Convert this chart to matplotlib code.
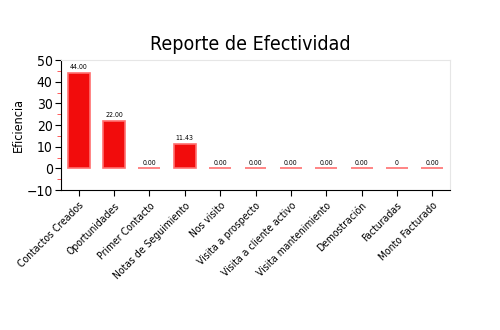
import matplotlib
matplotlib.use('Agg')
import matplotlib.pyplot as plt
from matplotlib.ticker import MultipleLocator

# Data
categories = ['Contactos Creados', 'Oportunidades', 'Primer Contacto',
              'Notas de Seguimiento', 'Nos visito', 'Visita a prospecto',
              'Visita a cliente activo', 'Visita mantenimiento',
              'Demostración', 'Facturadas', 'Monto Facturado']
values = [44.0, 22.0, 0, 11.43, 0, 0, 0, 0, 0, 0, 0]
value_labels = ['44.00', '22.00', '0.00', '11.43', '0.00', '0.00', '0.00',
                '0.00', '0.00', '0', '0.00']

plt.rcParams['font.family'] = ['DejaVu Sans']
plt.rcParams['font.stretch'] = 'condensed'

fig = plt.figure(figsize=(5, 3.3), dpi=100)
ax = fig.add_axes([0.122, 0.424, 0.778, 0.394])

x = range(len(categories))
ax.bar(x, values, width=0.62, color='#f20c0c', edgecolor='#ff7070',
       linewidth=1.2)
for i, (v, lab) in enumerate(zip(values, value_labels)):
    ax.text(i, v + 1.2, lab, ha='center', va='bottom', fontsize=5)

ax.set_xlim(-0.5, len(categories) - 0.5)
ax.set_ylim(-10, 50)
ax.yaxis.set_major_locator(MultipleLocator(10))
ax.yaxis.set_minor_locator(MultipleLocator(5))
ax.tick_params(axis='y', which='minor', color='#ff4040', length=3)
ax.tick_params(axis='y', which='major', labelsize=10, length=4, pad=2)
ax.set_xticks(list(x))
ax.set_xticklabels(categories, rotation=45, ha='right',
                   rotation_mode='anchor', fontsize=7.5)
ax.tick_params(axis='x', length=4)

for side in ['top', 'right']:
    ax.spines[side].set_color('#e6e6e6')
ax.set_ylabel('Eficiencia', fontsize=9, labelpad=1)
fig.text(0.5, 0.865, 'Reporte de Efectividad', ha='center', va='center',
         fontsize=14)

fig.savefig('out.png', dpi=100)
